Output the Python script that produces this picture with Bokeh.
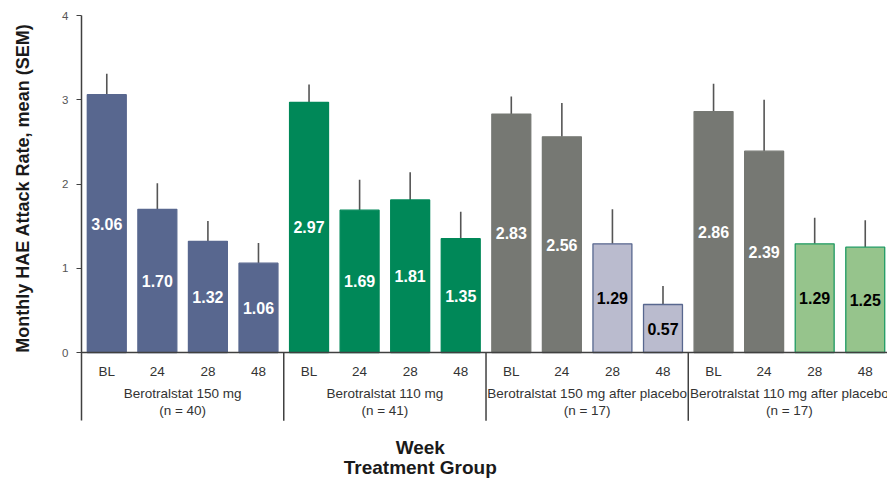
import math
from bokeh.plotting import figure
from bokeh.layouts import row
from bokeh.models import Range1d, FixedTicker, Span, Label, ColumnDataSource
from bokeh.core.properties import value
from bokeh.embed import file_html
from bokeh.resources import INLINE

# ---- data ----
groups = ["Berotralstat 150 mg", "Berotralstat 110 mg",
          "Berotralstat 150 mg after placebo", "Berotralstat 110 mg after placebo"]
group_n = ["(n = 40)", "(n = 41)", "(n = 17)", "(n = 17)"]
weeks = ["BL", "24", "28", "48"]
means = [3.06, 1.70, 1.32, 1.06,
         2.97, 1.69, 1.81, 1.35,
         2.83, 2.56, 1.29, 0.57,
         2.86, 2.39, 1.29, 1.25]
sems = [0.25, 0.31, 0.24, 0.24,
        0.21, 0.36, 0.33, 0.32,
        0.21, 0.40, 0.41, 0.22,
        0.33, 0.61, 0.31, 0.32]
y_ticks = [0, 1, 2, 3, 4]
y_title = "Monthly HAE Attack Rate, mean (SEM)"

# ---- styles ----
BLUE = "#58678f"
GREEN = "#008858"
GRAY = "#767873"
LAV = "#babbce"
LGREEN = "#96c48c"
group_styles = [
    [(BLUE, BLUE, "white")] * 4,
    [(GREEN, GREEN, "white")] * 4,
    [(GRAY, GRAY, "white")] * 2 + [(LAV, BLUE, "black")] * 2,
    [(GRAY, GRAY, "white")] * 2 + [(LGREEN, "#1f9a63", "black")] * 2,
]

nw = len(weeks)
xs, fills, lines, tcolors, wlabels = [], [], [], [], []
for gi, g in enumerate(groups):
    for wi, w in enumerate(weeks):
        xs.append(gi * nw + wi + 0.5)
        f, l, t = group_styles[gi][wi]
        fills.append(f)
        lines.append(l)
        tcolors.append(t)
        wlabels.append(w)

src = ColumnDataSource(dict(
    x=xs, top=means, upper=[m + s for m, s in zip(means, sems)],
    mid=[m / 2 for m in means], lab=["%.2f" % m for m in means],
    fill=fills, line=lines, tc=tcolors, week=wlabels,
))

FONT = value("Liberation Sans")
LEFT_W = 44
n_bars = len(means)
yr = Range1d(-1.519, 4)

p = figure(width=887 - LEFT_W, height=480, output_backend="svg", toolbar_location=None,
           x_range=Range1d(0, n_bars - 0.06), y_range=yr,
           x_axis_location=None, min_border_left=81 - LEFT_W, min_border_right=0,
           min_border_top=15, min_border_bottom=0)
p.outline_line_color = None
p.xgrid.visible = False
p.ygrid.visible = False

# error bars
p.segment(x0="x", y0="top", x1="x", y1="upper", source=src,
          line_color="#555555", line_width=1.6)
# bars
p.vbar(x="x", top="top", bottom=0, width=0.77, source=src,
       fill_color="fill", line_color="line", line_width=1.3)
# value labels
p.text(x="x", y="mid", text="lab", source=src, text_color="tc",
       text_font=FONT, text_font_style="bold", text_font_size="16px",
       text_align="center", text_baseline="middle")

# baseline
p.add_layout(Span(location=0, dimension="width", line_color="#404040", line_width=1.5))

# group separators
seps = [gi * nw for gi in range(1, len(groups))]
p.segment(x0=seps, y0=[0] * len(seps), x1=seps, y1=[-0.81] * len(seps),
          line_color="#404040", line_width=1.5)

# week labels
p.text(x="x", y=-0.225, text="week", source=src, text_color="#333333",
       text_font=FONT, text_font_size="13.5px", text_align="center",
       text_baseline="middle")
# group labels
gx = [gi * nw + nw / 2 for gi in range(len(groups))]
p.text(x=gx, y=[-0.487] * len(groups), text=groups, text_color="#333333",
       text_font=FONT, text_font_size="13.5px", text_align="center",
       text_baseline="middle")
p.text(x=gx, y=[-0.688] * len(groups), text=group_n, text_color="#333333",
       text_font=FONT, text_font_size="13.5px", text_align="center",
       text_baseline="middle")

# x titles
for txt, yy in [("Week", -1.13), ("Treatment Group", -1.365)]:
    p.add_layout(Label(x=6.7, y=yy, text=txt, text_font="Liberation Sans",
                       text_font_style="bold", text_font_size="19px",
                       text_color="#1a1a1a", text_align="center",
                       text_baseline="middle"))

# y axis
ya = p.yaxis[0]
ya.ticker = FixedTicker(ticks=y_ticks)
ya.bounds = (-0.81, 4)
ya.major_label_text_font = "Liberation Sans"
ya.major_label_text_font_size = "11.5px"
ya.major_label_text_color = "#555555"
ya.major_label_standoff = 8
ya.axis_line_color = "#404040"
ya.axis_line_width = 1.5
ya.major_tick_line_color = "#404040"
ya.major_tick_out = 5
ya.major_tick_in = 0
ya.minor_tick_line_color = None

# left strip carrying the y-axis title
t = figure(width=LEFT_W, height=480, output_backend="svg", toolbar_location=None,
           x_range=Range1d(0, LEFT_W), y_range=yr,
           x_axis_location=None, y_axis_location=None,
           min_border_left=0, min_border_right=0, min_border_top=15,
           min_border_bottom=0)
t.outline_line_color = None
t.xgrid.visible = False
t.ygrid.visible = False
t.text(x=[22], y=[1.95], text=[y_title], angle=math.pi / 2,
       text_font=FONT, text_font_style="bold", text_font_size="18px",
       text_color="#1a1a1a", text_align="center", text_baseline="middle")

layout = row(t, p, spacing=0)
open("out.html", "w").write(file_html(layout, INLINE))
